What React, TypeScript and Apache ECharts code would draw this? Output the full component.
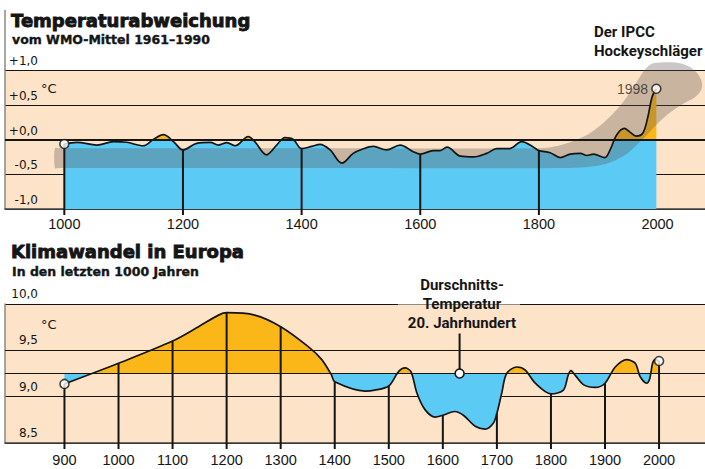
import React, { useEffect, useRef } from "react";
import * as echarts from "echarts";

// ---------- colours ----------
const PEACH = "#fde3c8";
const BLUE = "#5bcaf5";
const ORANGE = "#fbb718";
const INK = "#151515";
const AXIS_GREY = "#8a8a8a";
const BAND = "rgba(92,80,78,0.32)";

// ---------- top chart: Temperaturabweichung ----------
const topYears = [
  1000, 1021, 1055, 1083, 1105, 1133, 1150, 1167, 1184, 1200,
  1223, 1246, 1260, 1274, 1288, 1310, 1321, 1341, 1358, 1372,
  1386, 1400, 1417, 1431, 1448, 1468, 1487, 1502, 1521, 1543,
  1566, 1588, 1600, 1622, 1633, 1645, 1668, 1690, 1712, 1729,
  1751, 1771, 1791, 1800, 1819, 1836, 1853, 1870, 1881, 1892,
  1911, 1920, 1931, 1944, 1953, 1964, 1975, 1983, 1991, 1998,
];
const topVals = [
  -0.065, -0.04, -0.08, -0.03, -0.04, -0.09, 0.0, 0.07, -0.03, -0.15,
  -0.055, -0.04, -0.08, -0.045, -0.09, 0.04, -0.03, -0.22, -0.08, 0.026,
  0.0, -0.13, -0.1, -0.07, -0.15, -0.34, -0.2, -0.14, -0.1, -0.15,
  -0.08, -0.175, -0.21, -0.16, -0.16, -0.11, -0.24, -0.25, -0.2, -0.13,
  -0.13, -0.03, -0.11, -0.16, -0.19, -0.26, -0.21, -0.2, -0.23, -0.21,
  -0.26, -0.15, 0.065, 0.16, 0.11, 0.05, 0.09, 0.3, 0.62, 0.73,
];
const topYTicks = [-1, -0.5, 0, 0.5, 1];
const topYLabels = ["-1,0", "-0,5", "+0,0", "+0,5", "+1,0"];
const topXTicks = [1000, 1200, 1400, 1600, 1800, 2000];
const topDropYears = [1000, 1200, 1400, 1600, 1800];

// IPCC "hockey stick" band outline (year, value), clockwise
const bandYears = [
  984, 990, 1400, 1800, 1835, 1881, 1914, 1942, 1965, 1982, 1995, 2025, 2045, 2062, 2074,
  2074, 2062, 2040, 2020, 1999, 1977, 1949, 1920, 1892, 1850, 1400, 990, 984,
];
const bandVals = [
  -0.125, -0.125, -0.125, -0.125, -0.085, 0.065, 0.28, 0.54, 0.83, 1.04, 1.1, 1.11, 1.08, 1.0, 0.85,
  0.72, 0.6, 0.5, 0.38, 0.22, 0.02, -0.2, -0.33, -0.385, -0.41, -0.41, -0.41, -0.41,
];

// ---------- bottom chart: Klimawandel in Europa ----------
const botYears = [
  900, 1000, 1100, 1148, 1185, 1200, 1252, 1300, 1351, 1376,
  1394, 1400, 1456, 1474, 1500, 1518, 1530, 1541, 1552, 1567,
  1586, 1600, 1622, 1638, 1660, 1678, 1693, 1700, 1709, 1718,
  1737, 1752, 1771, 1800, 1823, 1832, 1837, 1845, 1860, 1882,
  1900, 1919, 1940, 1956, 1965, 1977, 1983, 1988, 1993, 2000,
];
const botVals = [
  9.137, 9.36, 9.6, 9.755, 9.88, 9.906, 9.88, 9.755, 9.54, 9.4,
  9.234, 9.16, 9.06, 9.07, 9.115, 9.27, 9.31, 9.27, 9.04, 8.86,
  8.78, 8.8, 8.84, 8.8, 8.68, 8.65, 8.71, 8.82, 9.04, 9.25,
  9.32, 9.29, 9.145, 9.03, 9.07, 9.234, 9.28, 9.23, 9.13, 9.1,
  9.145, 9.32, 9.4, 9.36, 9.216, 9.145, 9.2, 9.36, 9.4, 9.385,
];
const botYTicks = [8.5, 9, 9.5, 10];
const botYLabels = ["8,5", "9,0", "9,5", "10,0"];
const botXTicks = [900, 1000, 1100, 1200, 1300, 1400, 1500, 1600, 1700, 1800, 1900, 2000];
const botDropYears = botXTicks;
const avgTemp = 9.25; // Durchschnitts-Temperatur 20. Jahrhundert
const avgMarkYear = 1631;

// ---------- helpers ----------
const pairs = (xs: number[], ys: number[]) => xs.map((x, i) => [x, ys[i]]);
const labelFor = (ticks: number[], labels: string[]) => (v: number) => {
  const i = ticks.findIndex((t) => Math.abs(t - v) < 1e-9);
  return i >= 0 ? labels[i] : "";
};
const splitPieces = (lo: number, mid: number, hi: number) => [
  { lt: lo, color: BLUE },
  { gte: lo, lt: mid, color: BLUE },
  { gte: mid, lte: hi, color: ORANGE },
  { gt: hi, color: ORANGE },
];

const yLabelStyle = {
  inside: true,
  align: "right",
  verticalAlign: "bottom",
  margin: 33,
  lineHeight: 18,
  fontFamily: "DejaVu Sans",
  fontSize: 12,
  color: INK,
};
const xLabelStyle = {
  fontFamily: "Liberation Sans",
  fontSize: 14.5,
  color: INK,
  formatter: (v: number) => String(v),
};

function dropSeries(xi: number, years: number[], allYears: number[], allVals: number[], yMin: number) {
  return {
    type: "custom",
    xAxisIndex: xi,
    yAxisIndex: xi,
    z: 4,
    silent: true,
    data: years.map((y) => [y, allVals[allYears.indexOf(y)]]),
    renderItem: (_p: any, api: any) => {
      const a = api.coord([api.value(0), api.value(1)]);
      const b = api.coord([api.value(0), yMin]);
      return {
        type: "line",
        shape: { x1: a[0], y1: a[1], x2: b[0], y2: b[1] + 6 },
        style: { stroke: INK, lineWidth: 2 },
      };
    },
  };
}

function endPoints(xi: number, xs: number[], ys: number[], lastLabel: boolean) {
  const n = xs.length - 1;
  return {
    type: "scatter",
    xAxisIndex: xi,
    yAxisIndex: xi,
    z: 6,
    silent: true,
    symbolSize: 9,
    itemStyle: { color: "#ffffff", borderColor: INK, borderWidth: 1.6 },
    data: [
      { value: [xs[0], ys[0]] },
      {
        value: [xs[n], ys[n]],
        label: {
          show: lastLabel,
          position: "left",
          distance: 3,
          formatter: String(xs[n]),
          fontFamily: "Liberation Sans",
          fontSize: 14,
          color: "#2a2a2a",
        },
      },
    ],
  };
}

const titleFont = { fontFamily: "DejaVu Sans", fontWeight: "bold", fill: INK, stroke: INK };
const noteFont = { fontFamily: "Roboto", fontWeight: "bold", fontSize: 15, fill: INK };

const option: any = {
  animation: false,
  backgroundColor: "#ffffff",
  grid: [
    { left: 5, top: 70, width: 700, height: 139, show: true, backgroundColor: PEACH, borderWidth: 0 },
    { left: 5, top: 304, width: 700, height: 139, show: true, backgroundColor: PEACH, borderWidth: 0 },
  ],
  xAxis: [
    {
      gridIndex: 0, type: "value", min: 900, max: 2080,
      axisLine: { show: true, onZero: false, lineStyle: { color: "#444", width: 1.5 } },
      axisTick: { show: false },
      splitLine: { show: false },
      axisLabel: { ...xLabelStyle, customValues: topXTicks, margin: 7 },
    },
    {
      gridIndex: 1, type: "value", min: 790, max: 2085,
      axisLine: { show: true, onZero: false, lineStyle: { color: "#444", width: 1.5 } },
      axisTick: { show: false },
      splitLine: { show: false },
      axisLabel: { ...xLabelStyle, customValues: botXTicks, margin: 9 },
    },
  ],
  yAxis: [
    {
      gridIndex: 0, type: "value", min: -1, max: 1, interval: 0.5,
      axisLine: { show: true, onZero: false, lineStyle: { color: AXIS_GREY, width: 1.5 } },
      axisTick: { show: false },
      splitLine: { show: true, lineStyle: { color: INK, width: 1 } },
      axisLabel: { ...yLabelStyle, formatter: labelFor(topYTicks, topYLabels) },
    },
    {
      gridIndex: 1, type: "value", min: 8.5, max: 10, interval: 0.5,
      axisLine: { show: true, onZero: false, lineStyle: { color: AXIS_GREY, width: 1.5 } },
      axisTick: { show: false },
      splitLine: { show: true, lineStyle: { color: INK, width: 1 } },
      axisLabel: { ...yLabelStyle, lineHeight: 20, formatter: labelFor(botYTicks, botYLabels) },
    },
  ],
  visualMap: [
    {
      type: "piecewise", show: false, seriesIndex: 0, dimension: 1,
      pieces: splitPieces(topYTicks[0], 0, topYTicks[4]),
    },
    {
      type: "piecewise", show: false, seriesIndex: 5, dimension: 1,
      pieces: splitPieces(botYTicks[0], avgTemp, botYTicks[3]),
    },
  ],
  series: [
    // 0 top area
    {
      type: "line", xAxisIndex: 0, yAxisIndex: 0, z: 2, silent: true,
      data: pairs(topYears, topVals), smooth: 0.35, showSymbol: false,
      lineStyle: { width: 0, opacity: 0 },
      areaStyle: { opacity: 1, origin: "start" },
    },
    // 1 hockey stick band
    {
      type: "custom", xAxisIndex: 0, yAxisIndex: 0, z: 3, silent: true,
      data: [[bandYears[0], bandVals[0]]],
      renderItem: (_p: any, api: any) => ({
        type: "polygon",
        shape: { points: bandYears.map((y, i) => api.coord([y, bandVals[i]])), smooth: 0.3 },
        style: { fill: BAND },
      }),
    },
    // 2 top curve
    {
      type: "line", xAxisIndex: 0, yAxisIndex: 0, z: 4, silent: true,
      data: pairs(topYears, topVals), smooth: 0.35, showSymbol: false,
      lineStyle: { color: INK, width: 1.7 },
      markLine: {
        silent: true, symbol: "none", label: { show: false },
        lineStyle: { color: INK, width: 2, type: "solid" },
        data: [{ yAxis: topYTicks[2] }],
      },
    },
    // 3 top drop lines
    dropSeries(0, topDropYears, topYears, topVals, topYTicks[0]),
    // 4 top end points
    endPoints(0, topYears, topVals, true),
    // 5 bottom area
    {
      type: "line", xAxisIndex: 1, yAxisIndex: 1, z: 2, silent: true,
      data: pairs(botYears, botVals), smooth: 0.3, showSymbol: false,
      lineStyle: { width: 0, opacity: 0 },
      areaStyle: { opacity: 1, origin: avgTemp },
    },
    // 6 bottom curve
    {
      type: "line", xAxisIndex: 1, yAxisIndex: 1, z: 4, silent: true,
      data: pairs(botYears, botVals), smooth: 0.3, showSymbol: false,
      lineStyle: { color: INK, width: 1.7 },
      markLine: {
        silent: true, symbol: "none", label: { show: false },
        lineStyle: { color: INK, width: 1.2, type: "solid" },
        data: [{ yAxis: avgTemp }, { yAxis: botYTicks[2] }],
      },
    },
    // 7 bottom drop lines
    dropSeries(1, botDropYears, botYears, botVals, botYTicks[0]),
    // 8 bottom end points
    endPoints(1, botYears, botVals, false),
    // 9 average marker
    {
      type: "custom", xAxisIndex: 1, yAxisIndex: 1, z: 6, silent: true,
      data: [[avgMarkYear, avgTemp]],
      renderItem: (_p: any, api: any) => {
        const p = api.coord([api.value(0), api.value(1)]);
        return {
          type: "group",
          children: [
            { type: "line", shape: { x1: p[0], y1: p[1], x2: p[0], y2: p[1] - 40 }, style: { stroke: INK, lineWidth: 2 } },
            { type: "circle", shape: { cx: p[0], cy: p[1], r: 4.5 }, style: { fill: "#fff", stroke: INK, lineWidth: 1.6 } },
          ],
        };
      },
    },
  ],
  graphic: [
    { type: "line", z: 50, shape: { x1: 5, y1: 10, x2: 5, y2: 70 }, style: { stroke: AXIS_GREY, lineWidth: 1.5 } },
    { type: "text", z: 50, x: 11, y: 20, style: { ...titleFont, lineWidth: 0.9, text: "Temperaturabweichung", fontSize: 18, verticalAlign: "middle" } },
    { type: "text", z: 50, x: 12, y: 39, style: { ...titleFont, lineWidth: 0.35, text: "vom WMO-Mittel 1961–1990", fontSize: 12.5, verticalAlign: "middle" } },
    { type: "text", z: 50, x: 41, y: 88, style: { text: "°C", fontFamily: "DejaVu Sans", fontSize: 13, fill: INK, verticalAlign: "middle" } },
    { type: "text", z: 50, x: 594, y: 32, style: { ...noteFont, text: "Der IPCC", verticalAlign: "middle" } },
    { type: "text", z: 50, x: 594, y: 51, style: { ...noteFont, text: "Hockeyschläger", verticalAlign: "middle" } },
    { type: "text", z: 50, x: 11, y: 251, style: { ...titleFont, lineWidth: 0.9, text: "Klimawandel in Europa", fontSize: 18, verticalAlign: "middle" } },
    { type: "text", z: 50, x: 12, y: 271, style: { ...titleFont, lineWidth: 0.35, text: "In den letzten 1000 Jahren", fontSize: 12.5, verticalAlign: "middle" } },
    { type: "text", z: 50, x: 41, y: 324, style: { text: "°C", fontFamily: "DejaVu Sans", fontSize: 13, fill: INK, verticalAlign: "middle" } },
    { type: "rect", z: 50, shape: { x: 398, y: 295, width: 122, height: 9.5 }, style: { fill: "#ffffff" } },
    { type: "text", z: 51, x: 462, y: 285, style: { ...noteFont, text: "Durschnitts-", align: "center", verticalAlign: "middle" } },
    { type: "text", z: 51, x: 462, y: 304, style: { ...noteFont, text: "Temperatur", align: "center", verticalAlign: "middle" } },
    { type: "text", z: 51, x: 462, y: 323, style: { ...noteFont, text: "20. Jahrhundert", align: "center", verticalAlign: "middle" } },
  ],
};

export default function App() {
  const ref = useRef<HTMLDivElement>(null);
  useEffect(() => {
    document.body.style.margin = "0";
    const chart = echarts.init(ref.current!, undefined, { renderer: "svg" });
    chart.setOption(option);
    return () => chart.dispose();
  }, []);
  return (
    <div
      ref={ref}
      style={{ position: "absolute", left: 0, top: 0, width: 705, height: 469, background: "#fff" }}
    />
  );
}
